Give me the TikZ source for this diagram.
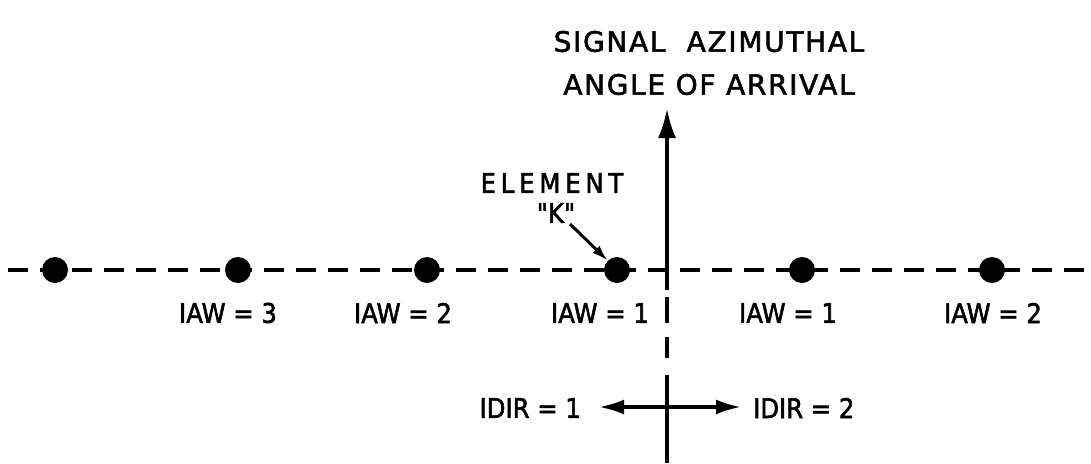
\documentclass[tikz,border=0pt]{standalone}
\usepackage{fontspec}
\setmainfont{DejaVu Sans}[FakeStretch=0.9,FakeBold=2]
\newfontfamily\titlefont{DejaVu Sans}[FakeBold=2,LetterSpace=6]
\newfontfamily\elemfont{DejaVu Sans}[FakeStretch=0.9,FakeBold=2,LetterSpace=18]
\newfontfamily\quotefont{DejaVu Sans}[FakeStretch=0.9,FakeBold=2,Ligatures=TeXOff]
\usetikzlibrary{arrows.meta}
\begin{document}
\begin{tikzpicture}[x=1pt,y=-1pt,
  dot/.style={circle,fill=black,inner sep=0pt,minimum size=26pt},
  lbl/.style={font=\fontsize{27}{30}\selectfont,inner sep=0pt},
  ttl/.style={font=\titlefont\fontsize{28}{43}\selectfont,inner sep=0pt,align=center},
  axis/.style={line width=4pt},
  dashline/.style={line width=3.5pt,dash pattern=on 20pt off 12pt},
  tip/.style={-{Latex[length=30pt,width=18pt]}},
  htip/.style={-{Latex[length=25pt,width=15pt]}}]
\useasboundingbox (0,0) rectangle (1091,463);
% dashed horizontal line
\coordinate (hl) at (8,270);
\coordinate (hr) at (1091,270);
\draw[dashline] (hl) -- (hr);
% dots
\node[dot] (d0) at (55,270) {};
\node[dot] (d1) at (238,270) {};
\node[dot] (d2) at (427,270) {};
\node[dot] (d3) at (617,270) {};
\node[dot] (d4) at (802,270) {};
\node[dot] (d5) at (992,270) {};
% labels
\node[lbl] (l1) at (228,313) {IAW = 3};
\node[lbl] (l2) at (403,313) {IAW = 2};
\node[lbl] (l3) at (600,313) {IAW = 1};
\node[lbl] (l4) at (788,313) {IAW = 1};
\node[lbl] (l5) at (993,313) {IAW = 2};
% vertical axis
\coordinate (vtop) at (667,108);
\coordinate (v0) at (667,290);
\coordinate (v1) at (667,297);
\coordinate (v2) at (667,323);
\coordinate (v3) at (667,337);
\coordinate (v4) at (667,358);
\coordinate (v5) at (667,375);
\coordinate (vbot) at (667,463);
\draw[axis,tip] (v0) -- (vtop);
\draw[axis] (v1) -- (v2);
\draw[axis] (v3) -- (v4);
\draw[axis] (v5) -- (vbot);
% title
\node[ttl] (title) at (709,63) {SIGNAL\ \ AZIMUTHAL\\ANGLE OF ARRIVAL};
% element K
\node[inner sep=0pt,font=\elemfont\fontsize{27}{30}\selectfont] (elem) at (552,183) {ELEMENT};
\node[inner sep=0pt,font=\quotefont\fontsize{27}{30}\selectfont] (k) at (556,213) {"K"};
\coordinate (ka) at (570,224);
\draw[line width=3pt,-{Latex[length=16pt,width=10pt]}] (ka) -- (d3.north west);
% IDIR arrows
\coordinate (c) at (667,407);
\node[lbl,anchor=east] (idir1) at (581,408) {IDIR = 1};
\node[lbl,anchor=west] (idir2) at (753,408) {IDIR = 2};
\coordinate (ltip) at (599,407);
\coordinate (rtip) at (741,407);
\draw[line width=3.5pt,htip] (c) -- (ltip);
\draw[line width=3.5pt,htip] (c) -- (rtip);
\end{tikzpicture}
\end{document}
